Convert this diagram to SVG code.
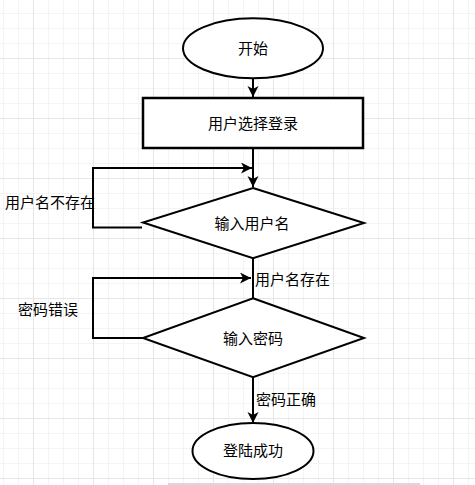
<svg xmlns="http://www.w3.org/2000/svg" width="475" height="485" viewBox="0 0 475 485">
  <style>
    .shape { fill: #ffffff; stroke: #000000; stroke-width: 2; }
    .rect { stroke-width: 2.5; }
    .conn { fill: none; stroke: #000000; stroke-width: 2; }
    text { font-family: "Noto Sans CJK SC", "Noto Sans", sans-serif; font-size: 15px; fill: #000000; }
    .c { text-anchor: middle; }
  </style>
  <defs>
    <pattern id="grid" patternUnits="userSpaceOnUse" x="33" y="58" width="60" height="60">
      <path d="M15.5,0 V60 M30.5,0 V60 M45.5,0 V60 M0,15.5 H60 M0,30.5 H60 M0,45.5 H60" stroke="#f4f4f4" stroke-width="1" fill="none"/>
      <path d="M0.5,0 V60 M0,0.5 H60" stroke="#e6e6e6" stroke-width="1" fill="none"/>
    </pattern>
    <marker id="arrow" markerUnits="userSpaceOnUse" markerWidth="12" markerHeight="12" refX="11" refY="5.5" orient="auto">
      <path d="M0,0 L11,5.5 L0,11 L3,5.5 Z" fill="#000000"/>
    </marker>
  </defs>

  <rect x="0" y="0" width="475" height="485" fill="#ffffff"/>
  <rect x="0" y="0" width="475" height="485" fill="url(#grid)"/>
  <rect x="168" y="483" width="252" height="2" fill="#d9d9d9"/>

  <g id="connectors">
    <path class="conn" d="M253,78 L253,97" marker-end="url(#arrow)"/>
    <path class="conn" d="M253,148 L253,187" marker-end="url(#arrow)"/>
    <path class="conn" d="M142,227.5 L93,227.5 L93,168 L252,168" marker-end="url(#arrow)"/>
    <path class="conn" d="M253,258 L253,298"/>
    <path class="conn" d="M143,338 L93,338 L93,278 L251,278" marker-end="url(#arrow)"/>
    <path class="conn" d="M253,377 L253,423" marker-end="url(#arrow)"/>
  </g>

  <g id="labels">
    <text x="50" y="208" class="c">用户名不存在</text>
    <text x="255" y="284.5">用户名存在</text>
    <text x="48" y="314.5" class="c">密码错误</text>
    <text x="256" y="404.5">密码正确</text>
  </g>

  <g id="start">
    <ellipse class="shape" cx="253" cy="48.3" rx="70" ry="30"/>
    <text x="253" y="54" class="c">开始</text>
  </g>

  <g id="select-login">
    <rect class="shape rect" x="143" y="98" width="220" height="50"/>
    <text x="253" y="129" class="c">用户选择登录</text>
  </g>

  <g id="input-username">
    <polygon class="shape" points="253,188 364,223 253,258.3 143,222.5"/>
    <text x="252" y="228.5" class="c">输入用户名</text>
  </g>

  <g id="input-password">
    <polygon class="shape" points="253,298.3 364,338 253,377.3 143,338"/>
    <text x="253" y="343.5" class="c">输入密码</text>
  </g>

  <g id="login-success">
    <ellipse class="shape" cx="253" cy="451" rx="60.5" ry="28"/>
    <text x="253" y="456" class="c">登陆成功</text>
  </g>
</svg>
